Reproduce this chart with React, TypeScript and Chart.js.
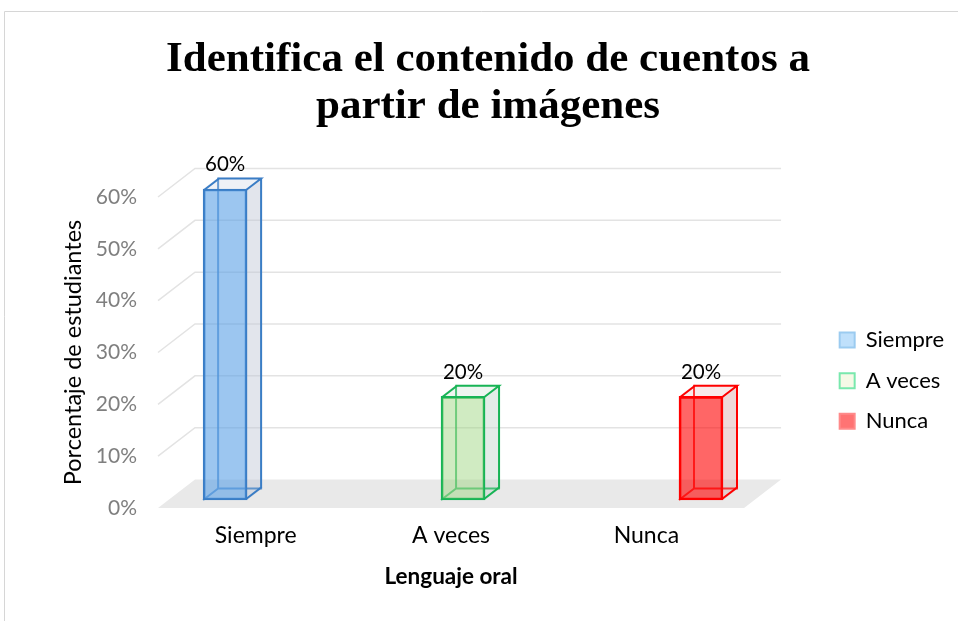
import { useEffect, useRef } from 'react';
import { Chart, registerables } from 'chart.js';

Chart.register(...registerables);

// ---- data ----
const categories = ['Siempre', 'A veces', 'Nunca'];
const percentages = [60, 20, 20];
const barPositions = [0, 1, 2];
const yTickValues = [0, 10, 20, 30, 40, 50, 60];
const titleLines = ['Identifica el contenido de cuentos a', 'partir de imágenes'];
const yTitle = 'Porcentaje de estudiantes';
const xTitle = 'Lenguaje oral';

// ---- styles ----
const FONT = 'Lato, "Noto Sans", "DejaVu Sans", sans-serif';
const faceColors = ['rgba(90,160,230,0.6)', 'rgba(150,210,120,0.45)', 'rgba(255,0,0,0.6)'];
const edgeColors = ['#3a7dc5', '#17b455', '#ff0000'];
const sideColors = ['rgba(190,198,212,0.45)', 'rgba(196,212,204,0.45)', 'rgba(218,170,170,0.45)'];
const topColors = ['rgba(205,215,228,0.35)', 'rgba(205,225,212,0.35)', 'rgba(235,195,195,0.35)'];
const legendFill = ['#bfe0fb', '#f5f9e6', '#ff7373'];
const legendStroke = ['#9bcbf0', '#79e8ad', '#ff8a8a'];

const WALL_DX = 37;
const WALL_DY = -28.5;
const BAR_DX = 15;
const BAR_DY = -11.5;

const borderPlugin = {
  id: 'outerBorder',
  beforeDraw(chart: any) {
    const { ctx, width, height } = chart;
    ctx.save();
    ctx.strokeStyle = '#d6d6d6';
    ctx.lineWidth = 1;
    ctx.beginPath();
    ctx.moveTo(4.5, height);
    ctx.lineTo(4.5, 11.5);
    ctx.lineTo(width, 11.5);
    ctx.stroke();
    ctx.restore();
  },
};

const wallsPlugin = {
  id: 'walls3d',
  beforeDatasetsDraw(chart: any) {
    const { ctx, chartArea } = chart;
    const { left, right, bottom } = chartArea;
    const ys = chart.scales.y;
    ctx.save();
    // floor
    ctx.fillStyle = '#e9e9e9';
    ctx.beginPath();
    ctx.moveTo(left, bottom);
    ctx.lineTo(right, bottom);
    ctx.lineTo(right + WALL_DX, bottom + WALL_DY);
    ctx.lineTo(left + WALL_DX, bottom + WALL_DY);
    ctx.closePath();
    ctx.fill();
    // gridlines on side + back wall
    ctx.strokeStyle = '#e3e3e3';
    ctx.lineWidth = 1.5;
    ys.ticks.forEach((t: any) => {
      if (t.value === 0) return;
      const py = ys.getPixelForValue(t.value);
      ctx.beginPath();
      ctx.moveTo(left, py);
      ctx.lineTo(left + WALL_DX, py + WALL_DY);
      ctx.lineTo(right + WALL_DX, py + WALL_DY);
      ctx.stroke();
    });

    // bars: hidden faces
    const meta = chart.getDatasetMeta(0);
    meta.data.forEach((bar: any, i: number) => {
      const { x, y, base, width } = bar.getProps(['x', 'y', 'base', 'width'], true);
      const x1 = x - width / 2;
      const x2 = x + width / 2;
      // side face
      ctx.fillStyle = sideColors[i];
      ctx.beginPath();
      ctx.moveTo(x2, y);
      ctx.lineTo(x2 + BAR_DX, y + BAR_DY);
      ctx.lineTo(x2 + BAR_DX, base + BAR_DY);
      ctx.lineTo(x2, base);
      ctx.closePath();
      ctx.fill();
      // top face
      ctx.fillStyle = topColors[i];
      ctx.beginPath();
      ctx.moveTo(x1, y);
      ctx.lineTo(x2, y);
      ctx.lineTo(x2 + BAR_DX, y + BAR_DY);
      ctx.lineTo(x1 + BAR_DX, y + BAR_DY);
      ctx.closePath();
      ctx.fill();
      // hidden edges
      ctx.strokeStyle = edgeColors[i];
      ctx.globalAlpha = 0.75;
      ctx.lineWidth = 2;
      ctx.beginPath();
      ctx.moveTo(x1 + BAR_DX, y + BAR_DY);
      ctx.lineTo(x1 + BAR_DX, base + BAR_DY);
      ctx.lineTo(x2 + BAR_DX, base + BAR_DY);
      ctx.moveTo(x1, base);
      ctx.lineTo(x1 + BAR_DX, base + BAR_DY);
      ctx.stroke();
      ctx.globalAlpha = 1;
    });
    ctx.restore();
  },
  afterDatasetsDraw(chart: any) {
    const { ctx } = chart;
    const meta = chart.getDatasetMeta(0);
    ctx.save();
    meta.data.forEach((bar: any, i: number) => {
      const { x, y, base, width } = bar.getProps(['x', 'y', 'base', 'width'], true);
      const x1 = x - width / 2 + 1;
      const x2 = x + width / 2 - 1;
      const yt = y + 1;
      const yb = base - 1;
      ctx.strokeStyle = edgeColors[i];
      ctx.lineWidth = 2;
      ctx.lineJoin = 'miter';
      ctx.beginPath();
      ctx.moveTo(x1, yt);
      ctx.lineTo(x1 + BAR_DX, yt + BAR_DY);
      ctx.lineTo(x2 + BAR_DX, yt + BAR_DY);
      ctx.lineTo(x2, yt);
      ctx.moveTo(x2 + BAR_DX, yt + BAR_DY);
      ctx.lineTo(x2 + BAR_DX, yb + BAR_DY);
      ctx.lineTo(x2, yb);
      ctx.stroke();
      // data label
      ctx.fillStyle = '#000';
      ctx.font = `20.5px ${FONT}`;
      ctx.textAlign = 'center';
      ctx.textBaseline = 'alphabetic';
      ctx.fillText(percentages[i] + '%', x, y + BAR_DY - 6);
    });
    ctx.restore();
  },
};

export default function App() {
  const canvasRef = useRef<HTMLCanvasElement | null>(null);

  useEffect(() => {
    document.body.style.margin = '0';
    const canvas = canvasRef.current;
    if (!canvas) return;
    const chart = new Chart(canvas, {
      type: 'bar',
      data: {
        datasets: [
          {
            label: 'Lenguaje oral',
            data: barPositions.map((p, i) => ({ x: p, y: percentages[i] })),
            xAxisID: 'xb',
            yAxisID: 'yb',
            backgroundColor: faceColors,
            borderColor: edgeColors,
            borderWidth: 2,
            borderSkipped: false,
            barThickness: 44,
            clip: false,
          } as any,
        ],
      },
      options: {
        animation: false,
        responsive: true,
        maintainAspectRatio: false,
        events: [],
        layout: { padding: { left: 22, right: 4, top: 0, bottom: 0 } },
        plugins: {
          tooltip: { enabled: false },
          title: {
            display: true,
            text: titleLines,
            color: '#000',
            font: { family: '"Liberation Serif", "Times New Roman", serif', size: 43, weight: 'bold', lineHeight: 1.093 },
            padding: { top: 36, bottom: 67 },
          },
          legend: {
            display: true,
            position: 'right',
            fullSize: false,
            title: { display: true, text: '', font: { size: 12 }, padding: 21 },
            labels: {
              boxWidth: 15,
              boxHeight: 15,
              padding: 18.6,
              color: '#000',
              font: { family: FONT, size: 22 },
              generateLabels: () =>
                categories.map((c, i) => ({
                  text: c,
                  fillStyle: legendFill[i],
                  strokeStyle: legendStroke[i],
                  lineWidth: 2,
                  hidden: false,
                  index: i,
                  datasetIndex: 0,
                  fontColor: '#000',
                })),
            },
          },
        },
        scales: {
          x: {
            type: 'category',
            labels: categories,
            position: 'bottom',
            offset: true,
            grid: { display: false, drawTicks: false },
            border: { display: false },
            ticks: { color: '#000', font: { family: FONT, size: 23 }, padding: 14 },
            title: {
              display: true,
              text: xTitle,
              color: '#000',
              font: { family: FONT, size: 22.5, weight: 'bold' },
              padding: { top: 0, bottom: 30.5 },
            },
            afterFit: (s: any) => {
              s.height = 113;
            },
          },
          xb: {
            type: 'linear',
            display: false,
            offset: false,
            min: -0.282,
            max: 2.181,
          },
          y: {
            type: 'linear',
            position: 'left',
            min: 0,
            max: 60,
            afterBuildTicks: (s: any) => {
              s.ticks = yTickValues.map((v) => ({ value: v }));
            },
            grid: { display: false, drawTicks: false },
            border: { display: false },
            ticks: {
              color: '#7f7f7f',
              font: { family: FONT, size: 21 },
              padding: 21,
              callback: (v: any) => v + '%',
            },
            title: {
              display: true,
              text: yTitle,
              color: '#000',
              font: { family: FONT, size: 23.5 },
              padding: { top: 37, bottom: 0 },
            },
            afterFit: (s: any) => {
              s.width = 136;
            },
          },
          yb: {
            type: 'linear',
            position: 'right',
            min: -1.55,
            max: 58.45,
            grid: { display: false, drawTicks: false },
            border: { display: false },
            ticks: { display: false },
            afterFit: (s: any) => {
              s.width = 77;
            },
          },
        },
      } as any,
      plugins: [borderPlugin, wallsPlugin],
    });
    return () => chart.destroy();
  }, []);

  return (
    <div style={{ position: 'relative', width: 958, height: 621 }}>
      <canvas ref={canvasRef} />
    </div>
  );
}
